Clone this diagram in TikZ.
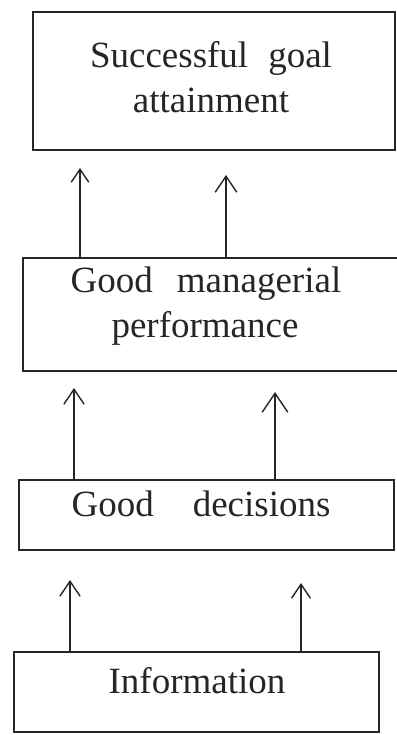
\documentclass[tikz,border=0pt]{standalone}
\usepackage{fontspec}
\setmainfont{Liberation Serif}
\usetikzlibrary{arrows.meta}
\definecolor{ink}{HTML}{262626}
\tikzset{
  box/.style={draw=ink, line width=1.4pt, inner sep=0pt, rectangle},
  lbl/.style={text=ink, anchor=base, inner sep=0pt,
    font=\fontsize{37}{44}\selectfont},
  up/.style={draw=ink, line width=1.4pt,
    -{Straight Barb[length=#1, width=1.35*#1, line width=1.4pt]}},
  up/.default=14pt
}
\begin{document}
\begin{tikzpicture}[x=1pt, y=-1pt]
  \useasboundingbox[fill=white] (0,0) rectangle (396,735);

  % boxes
  \node[box, minimum width=362pt, minimum height=138pt] (goal) at (214,81) {};
  \node[box, minimum width=375pt, minimum height=113pt] (perf) at (210.5,314.5) {};
  \node[box, minimum width=375pt, minimum height=70pt]  (dec)  at (206.5,515) {};
  \node[box, minimum width=365pt, minimum height=80pt]  (info) at (196.5,692) {};

  % box texts, one node per line, placed on their baselines
  \node[lbl] (goal1) at (211,68)  {Successful\hspace{20pt}goal};
  \node[lbl] (goal2) at (211,113) {attainment};
  \node[lbl] (perf1) at (206,292) {Good\hspace{24pt}managerial};
  \node[lbl] (perf2) at (205,337) {performance};
  \node[lbl] (dec1)  at (201,516) {Good\hspace{39pt}decisions};
  \node[lbl] (info1) at (197,693) {Information};

  % arrow tips
  \coordinate (ta) at (80,168);
  \coordinate (tb) at (226,175);
  \coordinate (tc) at (74,388);
  \coordinate (td) at (275,392);
  \coordinate (te) at (70,580);
  \coordinate (tf) at (301,583);

  % connectors
  \draw[up=13pt] (perf.north -| ta) -- (ta);
  \draw[up=16pt] (perf.north -| tb) -- (tb);
  \draw[up=15pt] (dec.north -| tc) -- (tc);
  \draw[up=19pt] (dec.north -| td) -- (td);
  \draw[up=15pt] (info.north -| te) -- (te);
  \draw[up=14pt] (info.north -| tf) -- (tf);
\end{tikzpicture}
\end{document}
